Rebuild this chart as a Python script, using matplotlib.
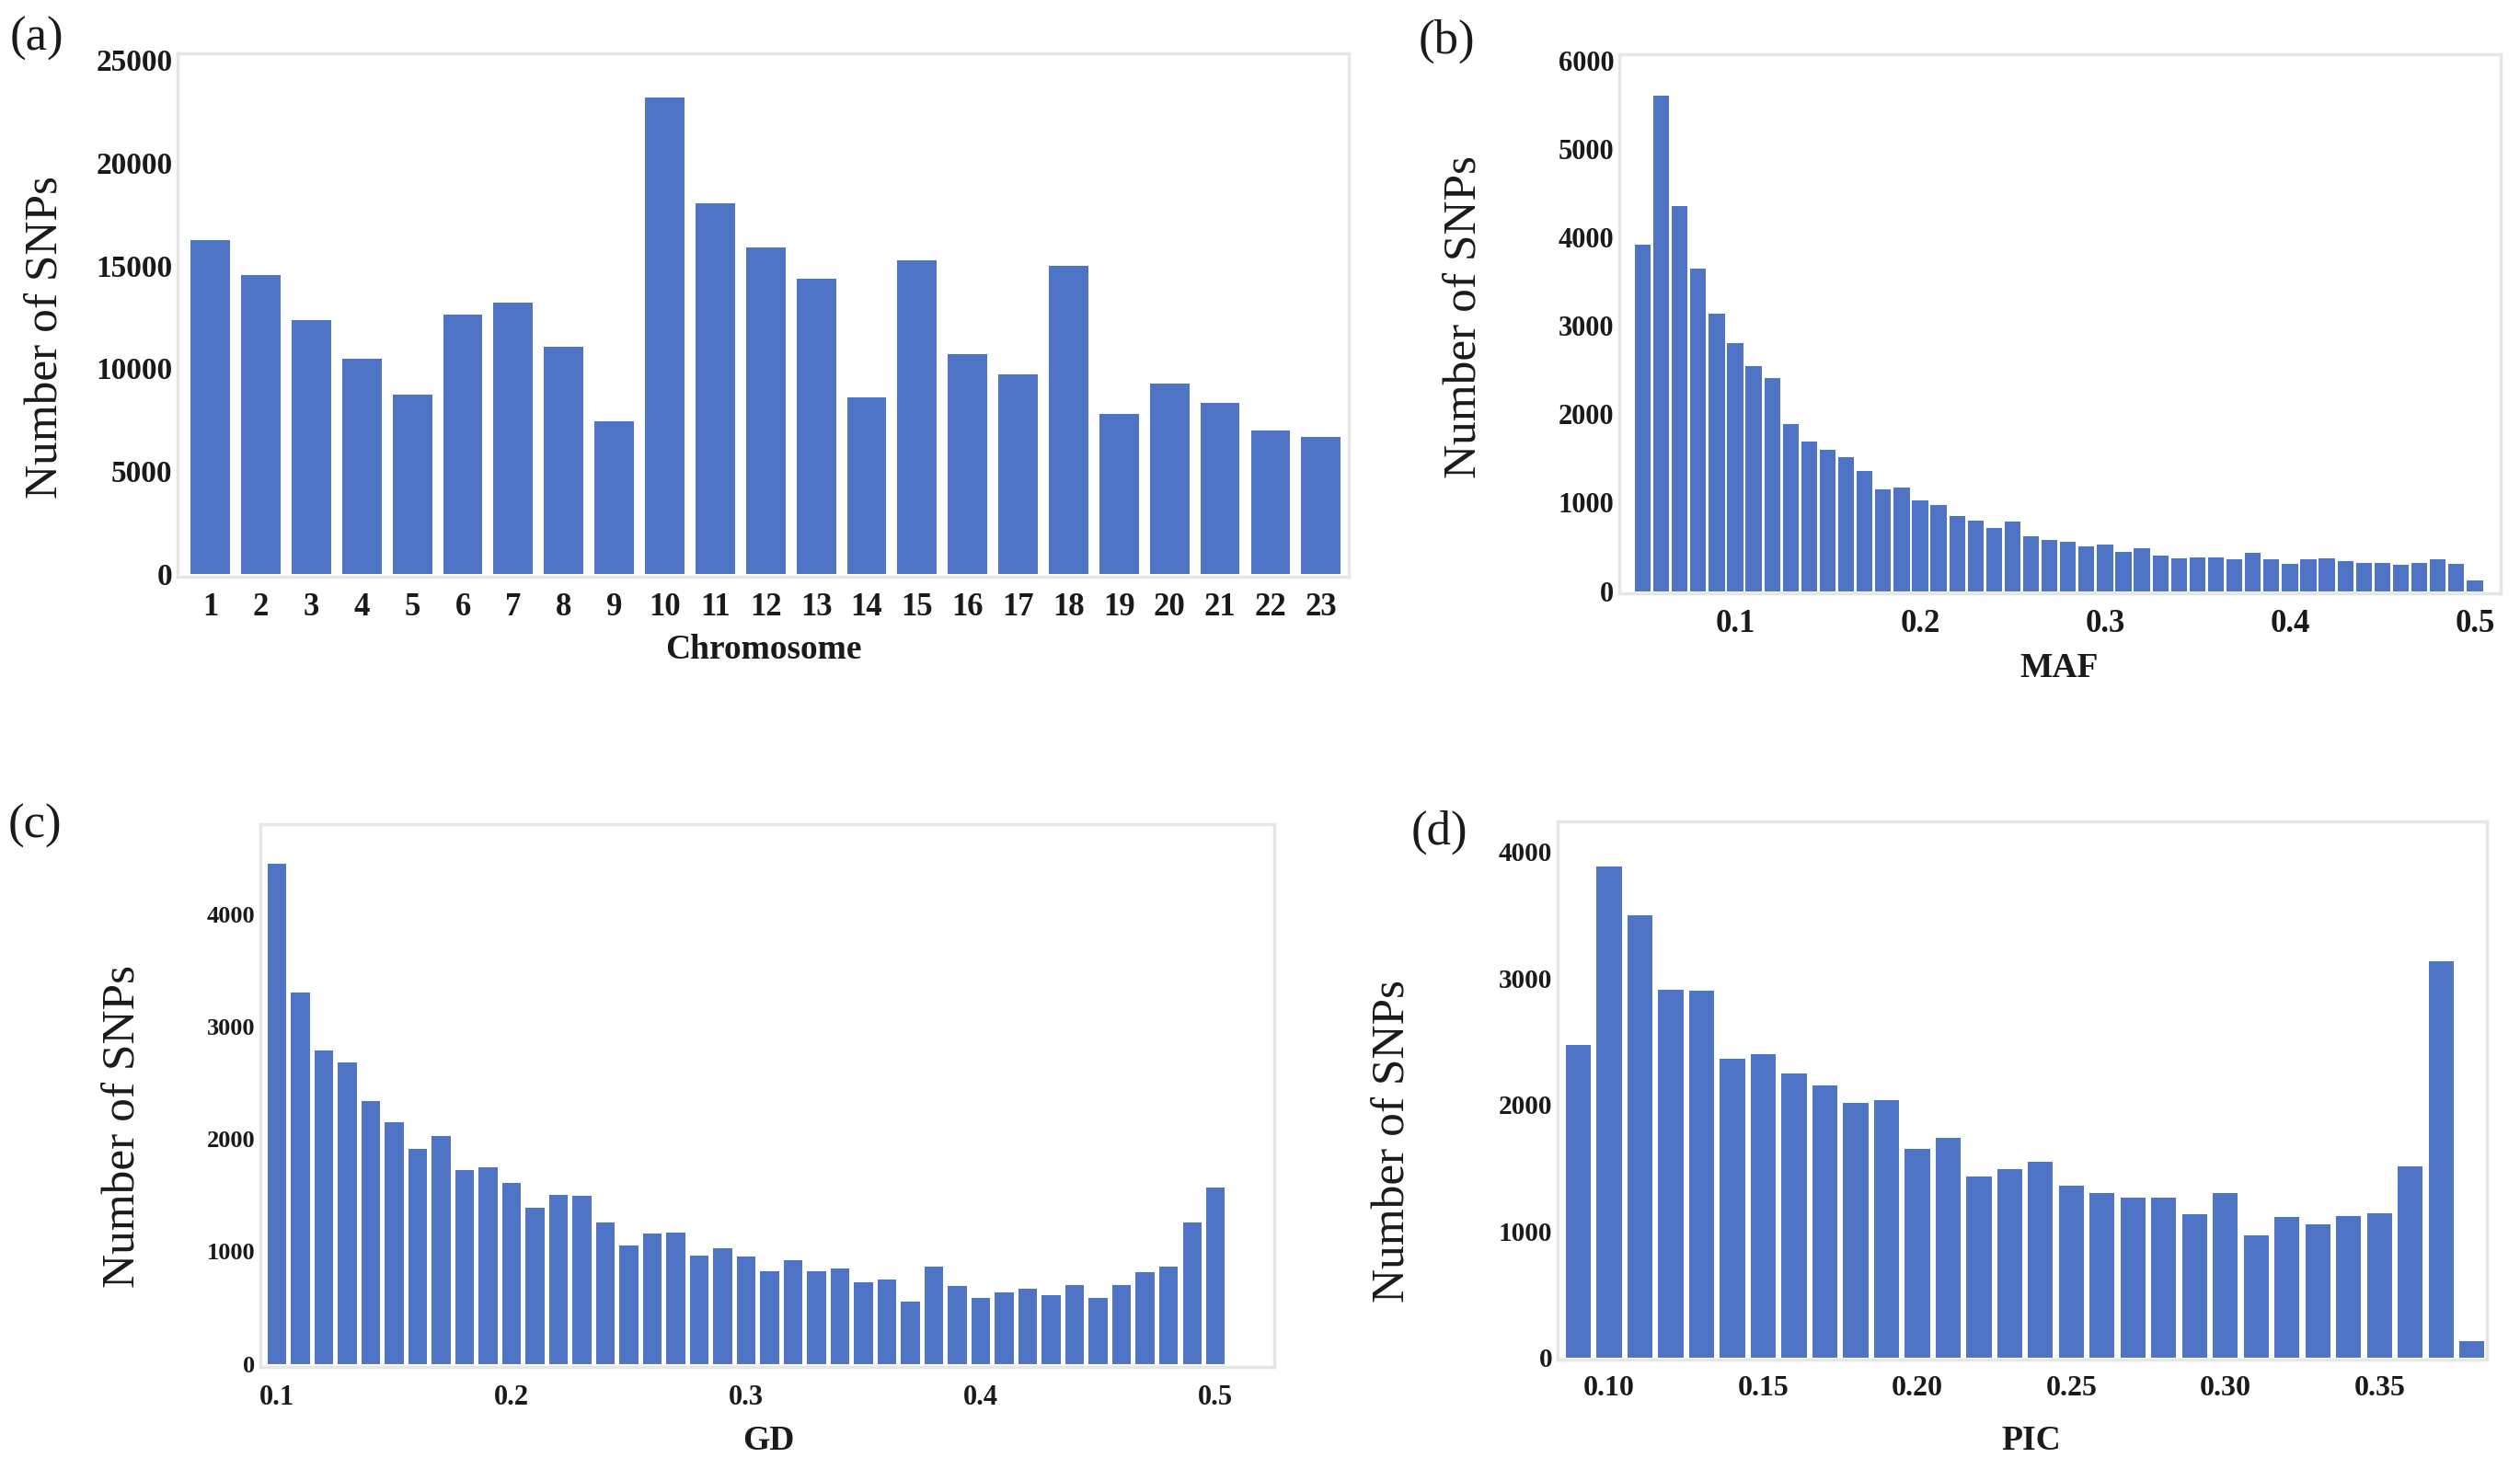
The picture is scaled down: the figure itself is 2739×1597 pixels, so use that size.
import matplotlib
matplotlib.use("Agg")
import matplotlib.pyplot as plt
import numpy as np

# ---------------- data ----------------
chromosomes = list(range(1, 24))
chrom_snps = [16250, 14550, 12350, 10460, 8710, 12590, 13180, 11070, 7430, 23160,
              18040, 15860, 14340, 8610, 15270, 10680, 9720, 14990, 7800, 9260,
              8340, 6990, 6670]

maf_bins = [round(0.05 + 0.01 * i, 2) for i in range(46)]
maf_counts = [3920, 5600, 4350, 3650, 3140, 2800, 2540, 2410, 1890, 1690,
              1600, 1515, 1355, 1150, 1170, 1025, 975, 850, 800, 710,
              785, 615, 575, 560, 505, 530, 445, 480, 405, 370,
              380, 380, 365, 430, 365, 305, 355, 370, 340, 315,
              315, 295, 315, 355, 305, 125]

gd_bins = [round(0.10 + 0.01 * i, 2) for i in range(41)]
gd_counts = [4450, 3300, 2790, 2680, 2340, 2150, 1915, 2025, 1720, 1750,
             1610, 1385, 1500, 1495, 1255, 1050, 1160, 1170, 960, 1030,
             955, 825, 920, 825, 845, 725, 750, 550, 865, 695,
             590, 635, 665, 610, 705, 590, 705, 815, 865, 1260,
             1570]

pic_bins = [round(0.09 + 0.01 * i, 2) for i in range(30)]
pic_counts = [2470, 3880, 3500, 2910, 2900, 2360, 2395, 2245, 2150, 2010,
              2035, 1650, 1735, 1430, 1490, 1550, 1360, 1300, 1265, 1265,
              1135, 1300, 965, 1110, 1055, 1120, 1140, 1510, 3130, 125]

# ---------------- style ----------------
W, H = 2739, 1597
DPI = 100
plt.rcParams['font.family'] = ['Liberation Serif', 'DejaVu Serif']
BAR = '#5074C5'
FRAME = '#E6E6E6'

fig = plt.figure(figsize=(W / DPI, H / DPI), dpi=DPI)
fig.patch.set_facecolor('white')


def ax_px(left, top, right, bottom):
    return fig.add_axes([left / W, 1 - bottom / H, (right - left) / W, (bottom - top) / H])


def style(ax, xsize, ysize, xpad=12, ypad=4):
    for s in ax.spines.values():
        s.set_color(FRAME)
        s.set_linewidth(2.5)
    ax.tick_params(axis='both', length=0)
    ax.tick_params(axis='x', labelsize=xsize, pad=xpad)
    ax.tick_params(axis='y', labelsize=ysize, pad=ypad)
    for lab in ax.get_xticklabels() + ax.get_yticklabels():
        lab.set_fontweight('bold')
        lab.set_color('#1a1a1a')


def ftext(x, y, s, **kw):
    fig.text(x / W, 1 - y / H, s, ha='center', va='center', **kw)


# (a) chromosome
ax = ax_px(193, 58, 1466, 627)
ax.bar(chromosomes, chrom_snps, width=0.78, color=BAR)
ax.set_xlim(0.35, 23.55)
ax.set_ylim(-120, 25300)
ax.set_xticks(chromosomes)
ax.set_yticks([0, 5000, 10000, 15000, 20000, 25000])
style(ax, 25, 24)

# (b) MAF
ax = ax_px(1760, 59, 2718, 645)
ax.bar(maf_bins, maf_counts, width=0.0086, color=BAR)
ax.set_xlim(0.0373, 0.514)
ax.set_ylim(-25, 6070)
ax.set_xticks([0.1, 0.2, 0.3, 0.4, 0.5])
ax.set_xticklabels(['0.1', '0.2', '0.3', '0.4', '0.5'])
ax.set_yticks(range(0, 7000, 1000))
style(ax, 25, 22)

# (c) GD
ax = ax_px(283, 896, 1385, 1486)
ax.bar(gd_bins, gd_counts, width=0.0080, color=BAR)
ax.set_xlim(0.093, 0.525)
ax.set_ylim(-27, 4800)
ax.set_xticks([0.1, 0.2, 0.3, 0.4, 0.5])
ax.set_xticklabels(['0.1', '0.2', '0.3', '0.4', '0.5'])
ax.set_yticks(range(0, 5000, 1000))
style(ax, 22, 19, xpad=14)

# (d) PIC
ax = ax_px(1693, 893, 2703, 1478)
ax.bar(pic_bins, pic_counts, width=0.0081, color=BAR)
ax.set_xlim(0.0833, 0.3848)
ax.set_ylim(-18, 4239)
ax.set_xticks([0.10, 0.15, 0.20, 0.25, 0.30, 0.35])
ax.set_xticklabels(['0.10', '0.15', '0.20', '0.25', '0.30', '0.35'])
ax.set_yticks(range(0, 5000, 1000))
style(ax, 23, 21, xpad=12)

# axis titles
ylab_kw = dict(fontsize=37, rotation=90, color='#1a1a1a')
ftext(50, 366, 'Number of SNPs', **ylab_kw)
ftext(1592, 345, 'Number of SNPs', **ylab_kw)
ftext(134, 1225, 'Number of SNPs', **ylab_kw)
ftext(1514, 1240, 'Number of SNPs', **ylab_kw)

xlab_kw = dict(fontsize=27, fontweight='bold', color='#1a1a1a')
ftext(830, 707, 'Chromosome', **xlab_kw)
ftext(2238, 726, 'MAF', **xlab_kw)
ftext(835, 1566, 'GD', **xlab_kw)
ftext(2208, 1566, 'PIC', **xlab_kw)

# panel labels
plab_kw = dict(fontsize=38, color='#1a1a1a')
ftext(40, 42, '(a)', **plab_kw)
ftext(1572, 45, '(b)', **plab_kw)
ftext(38, 898, '(c)', **plab_kw)
ftext(1564, 905, '(d)', **plab_kw)

fig.savefig('out.png', dpi=DPI, facecolor='white')
